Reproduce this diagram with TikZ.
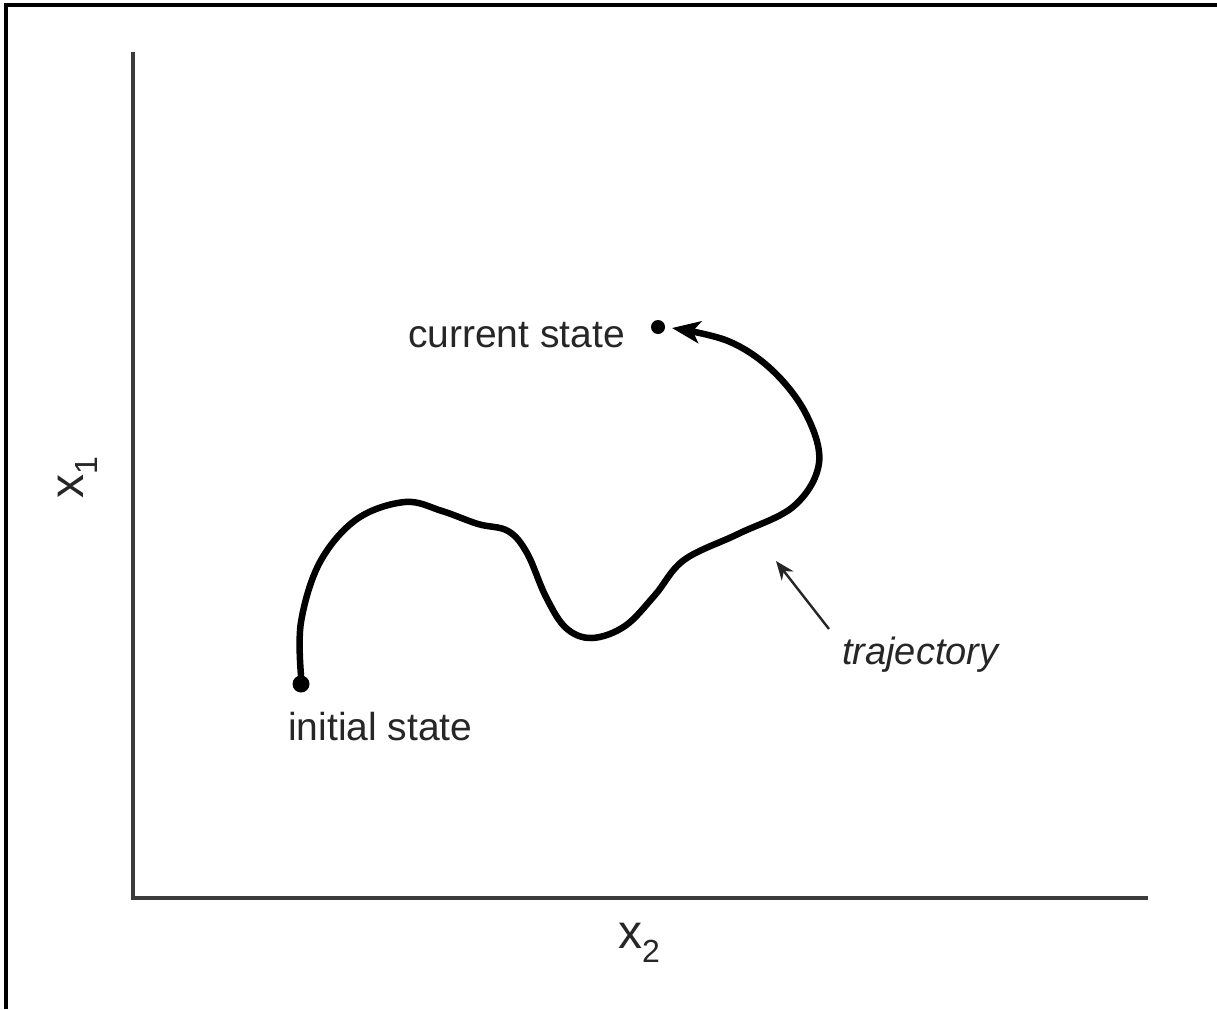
\documentclass[tikz,border=0pt]{standalone}
\usepackage{fontspec}
\setmainfont{Liberation Sans}
\usetikzlibrary{arrows.meta}
\definecolor{ink}{HTML}{262626}
\tikzset{
  axisline/.style={line width=3.5pt, draw=ink!90},
  lbl/.style={inner sep=0pt, text=ink, font=\fontsize{39}{44}\selectfont},
  statedot/.style={circle, fill=black, inner sep=0pt},
  traj/.style={line width=6.5pt, line cap=round, line join=round, black},
  pointer/.style={line width=2.4pt, draw=ink, -{Stealth[length=19pt,width=15pt]}},
}
\begin{document}
\begin{tikzpicture}[x=1pt,y=-1pt]
\useasboundingbox (0,0) rectangle (1217,1009);
% frame (left and top only)
\draw[line width=3.5pt,black] (6,1009) -- (6,5) -- (1217,5);
% axes
\coordinate (ytop) at (133,52);
\coordinate (orig) at (133,898);
\coordinate (xend) at (1148,898);
\draw[axisline] (ytop) -- (orig) -- (xend);
% axis labels
\node[lbl, rotate=90, font=\fontsize{48}{50}\selectfont] (x1) at (78,478)
  {x\raisebox{-0.30em}{\fontsize{32}{32}\selectfont 1}};
\node[lbl, font=\fontsize{48}{50}\selectfont] (x2) at (639,943)
  {x\raisebox{-0.30em}{\fontsize{32}{32}\selectfont 2}};
% states
\node[statedot, minimum size=17pt] (init) at (301,684) {};
\node[statedot, minimum size=14pt] (cur) at (658,327) {};
\node[lbl, anchor=base west] (initlbl) at (288,740) {initial state};
\node[lbl, anchor=base east] (curlbl) at (625,347) {current state};
\node[lbl, anchor=base west, font=\fontsize{38}{44}\selectfont\itshape] (trajlbl) at (842,664) {trajectory};
% trajectory
\coordinate (curtip) at (672,328);
\draw[traj, -{Stealth[length=28pt,width=22pt,inset=7pt]}] plot[smooth, tension=0.6] coordinates {
  (init.north) (301,622) (320,562) (357,519) (405,502) (442,511)
  (478,524) (508,531) (527,553) (546,597) (566,628) (592,638)
  (625,626) (655,595) (684,560) (738,534) (794,506) (819,463)
  (806,414) (772,370) (728,341) (curtip)};
% pointer to trajectory
\coordinate (ptail) at (829,629);
\coordinate (phead) at (776,561);
\draw[pointer] (ptail) -- (phead);
\end{tikzpicture}
\end{document}
